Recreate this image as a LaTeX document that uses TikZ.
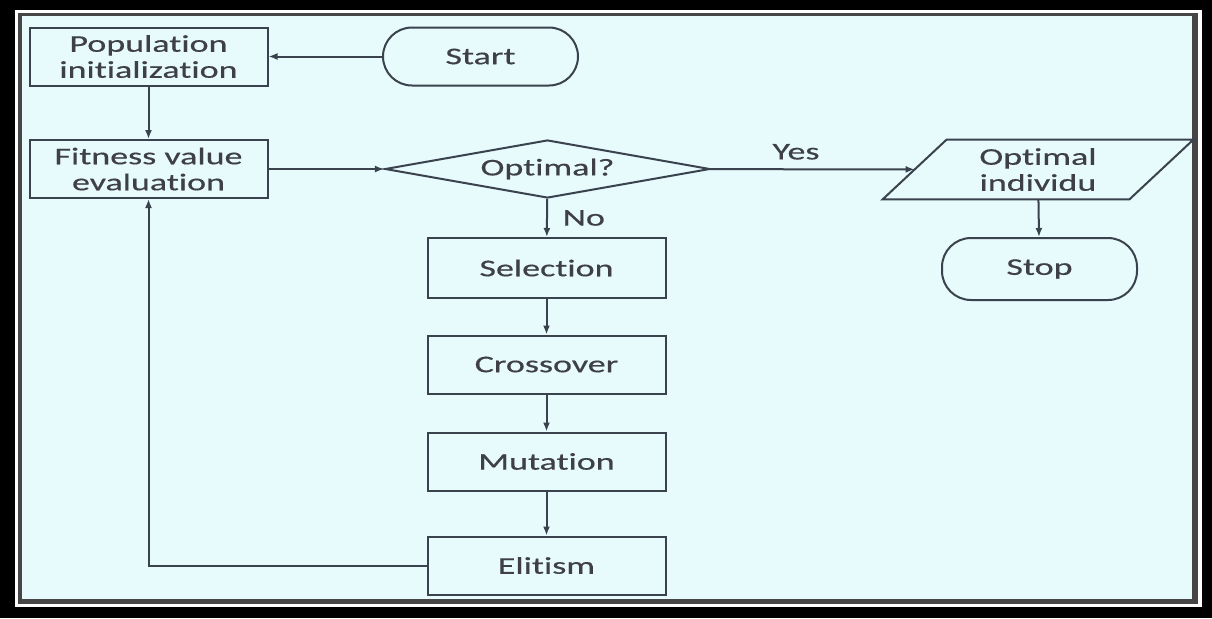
\documentclass[tikz,border=0pt]{standalone}
\usepackage{fontspec}
\setmainfont{Carlito}[Ligatures=NoCommon, FakeStretch=1.5, FakeBold=0.4]
\usetikzlibrary{positioning,shapes.geometric,arrows.meta}
\definecolor{bgcyan}{RGB}{231,250,252}
\definecolor{lineslate}{RGB}{58,66,78}
\definecolor{txtgray}{RGB}{62,64,70}

\begin{document}
\begin{tikzpicture}[x=0.5pt,y=-0.5pt,
    every node/.style={font=\fontsize{12}{13}\selectfont, text=txtgray, align=center},
    procbox/.style={draw=lineslate, line width=1pt, inner sep=0pt, minimum width=119pt, minimum height=29pt},
    termbox/.style={draw=lineslate, line width=1pt, rounded corners=14.5pt, inner sep=0pt, minimum width=97.5pt, minimum height=29pt},
    decbox/.style={draw=lineslate, line width=1pt, diamond, aspect=5.6, inner sep=0pt, minimum width=162.5pt, minimum height=29pt},
    iobox/.style={inner sep=0pt, minimum width=123pt, minimum height=29.5pt},
    arr/.style={draw=lineslate, line width=1pt, -{Latex[length=4.5pt,width=3.5pt]}}]
    \useasboundingbox (0,0) rectangle (1212,618);
    % frame
    \fill[black] (0,0) rectangle (1212,618);
    \fill[white] (15,10) rectangle (1202,607);
    \fill[gray!55!black] (18,13) rectangle (1198,604);
    \fill[bgcyan] (22,16) rectangle (1192,599);

    % left column
    \node[procbox] (pop) at (148.5,56.5) {Population\\initialization};
    \node[procbox] (fit) at (148.5,169) {Fitness value\\evaluation};
    \node[termbox] (start) at (480.5,56.5) {Start};

    % decision and output
    \node[decbox] (dia) at (547.5,169) {Optimal?};
    \node[iobox] (opt) at (1038,169.5) {Optimal\\individu};
    \draw[draw=lineslate, line width=1pt] ([xshift=16pt]opt.north west) -- ([xshift=16pt]opt.north east)
        -- ([xshift=-16pt]opt.south east) -- ([xshift=-16pt]opt.south west) -- cycle;
    \node[termbox, minimum height=31pt] (stop) at (1039.5,269) {Stop};

    % GA steps
    \node[procbox, minimum height=30pt] (sel) at (546.5,268) {Selection};
    \node[procbox] (cross) at (546.5,364.5) {Crossover};
    \node[procbox] (mut) at (546.5,461.5) {Mutation};
    \node[procbox] (elit) at (546.5,565.5) {Elitism};

    % connections
    \draw[arr] (start) -- (pop);
    \draw[arr] (pop) -- (fit);
    \draw[arr] (fit) -- (dia);
    \draw[arr] (dia) -- node[pos=0.42, above=1pt] {Yes} (opt);
    \draw[arr] (opt) -- (stop);
    \draw[arr] (dia) -- node[right=4pt] {No} (sel);
    \draw[arr] (sel) -- (cross);
    \draw[arr] (cross) -- (mut);
    \draw[arr] (mut) -- (elit);
    \draw[arr] (elit.west) -| (fit.south);
\end{tikzpicture}
\end{document}
